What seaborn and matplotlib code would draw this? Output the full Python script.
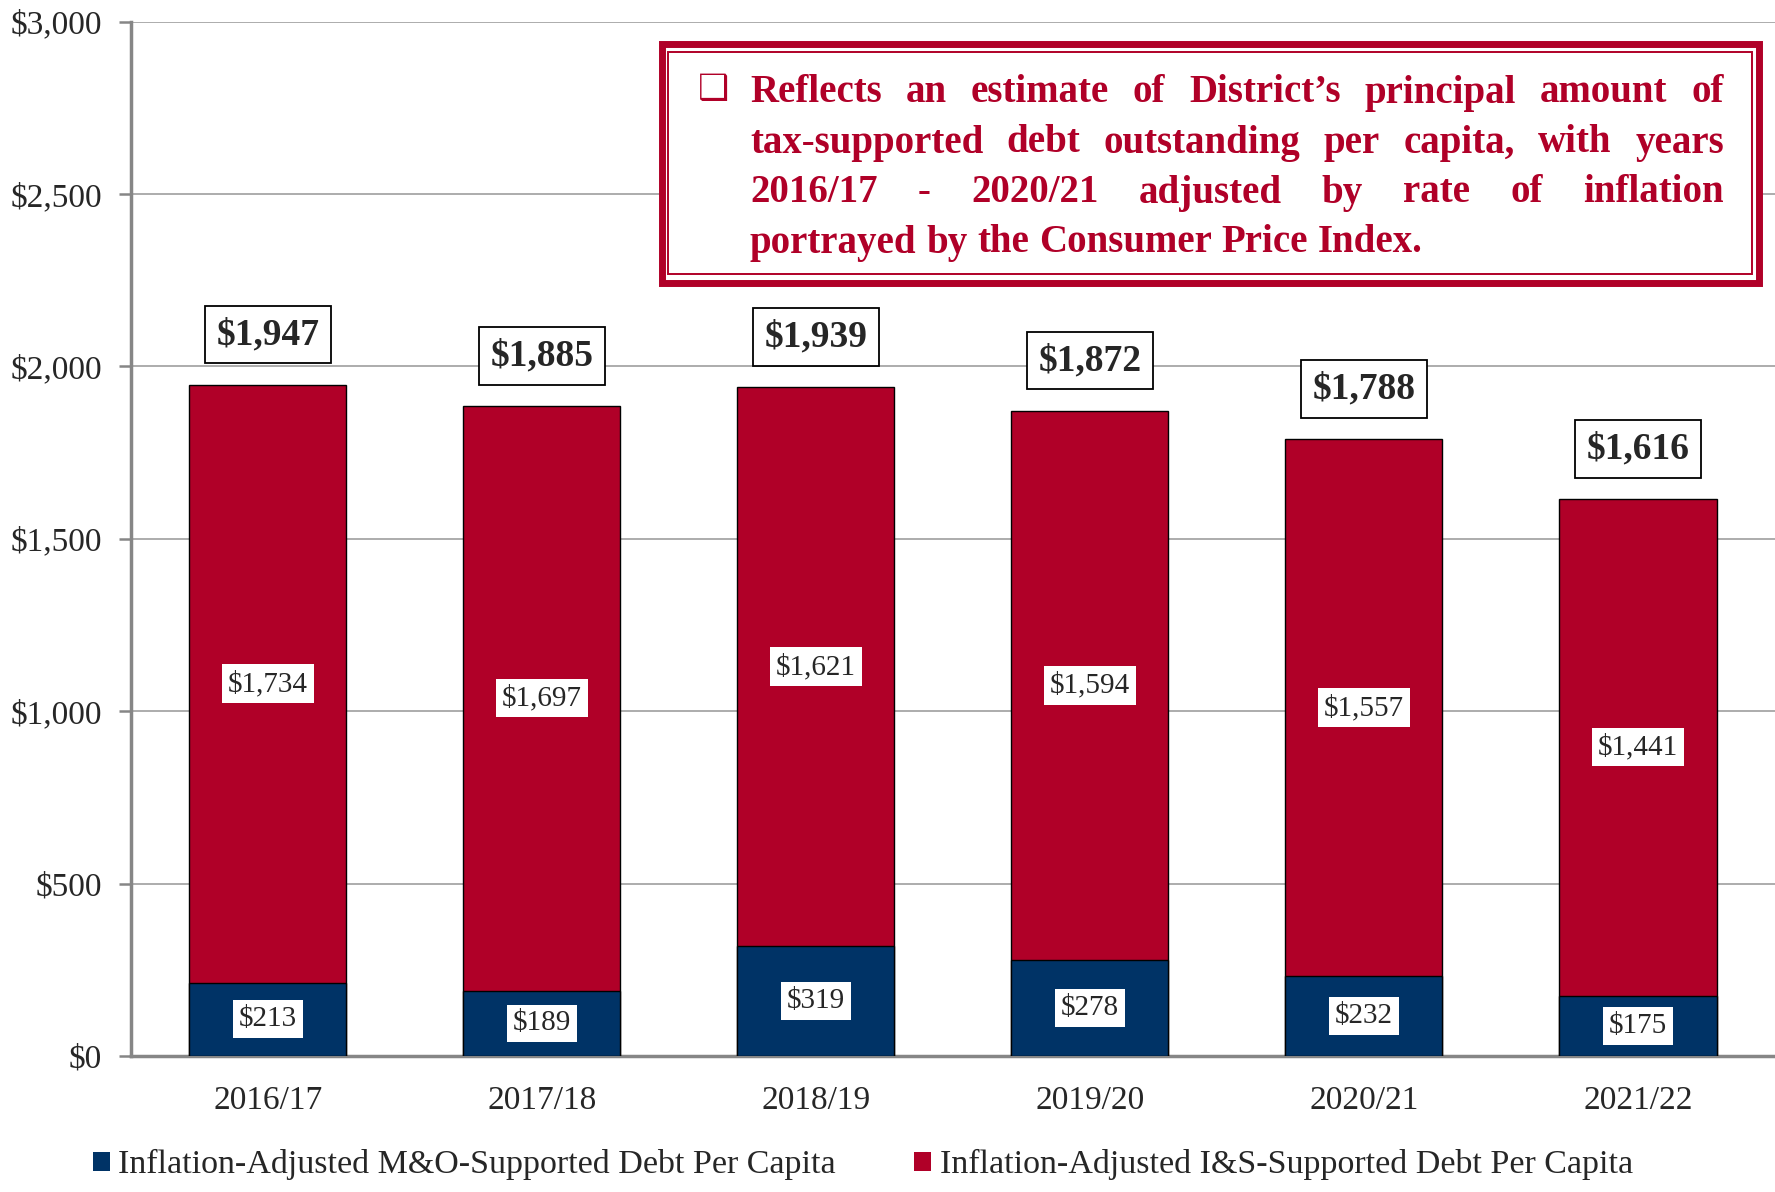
import numpy as np
import pandas as pd
import matplotlib.pyplot as plt
import matplotlib.ticker as mticker
from matplotlib.patches import Patch, Rectangle
import seaborn as sns

#%% data
years = ['2016/17', '2017/18', '2018/19', '2019/20', '2020/21', '2021/22']
mo_debt = [213, 189, 319, 278, 232, 175]          # M&O-supported, per capita
is_debt = [1734, 1697, 1621, 1594, 1557, 1441]    # I&S-supported, per capita
total_labels = ['$1,947', '$1,885', '$1,939', '$1,872', '$1,788', '$1,616']
note_lines = [
    "Reflects an estimate of District\u2019s principal amount of",
    "tax-supported debt outstanding per capita, with years",
    "2016/17 - 2020/21 adjusted by rate of inflation",
    "portrayed by the Consumer Price Index.",
]

df = pd.DataFrame({'year': years, 'mo': mo_debt, 'is': is_debt})
df['total'] = df['mo'] + df['is']

blue = '#003366'
red = '#B00028'

#%% style
sns.set_style('white')
plt.rcParams['font.family'] = ['Liberation Serif', 'DejaVu Serif']
plt.rcParams['text.parse_math'] = False

fig = plt.figure(figsize=(17.75, 11.92), dpi=100)
ax = fig.add_axes([0.0738, 0.1141, 0.9262, 0.8677])

#%% stacked bars: total in red, M&O on top of it in blue
sns.barplot(data=df, x='year', y='total', color=red, saturation=1, width=0.573,
            edgecolor='black', linewidth=1, ax=ax, zorder=3)
sns.barplot(data=df, x='year', y='mo', color=blue, saturation=1, width=0.573,
            edgecolor='black', linewidth=1, ax=ax, zorder=3)

# segment labels
for i, row in df.iterrows():
    ax.text(i, row['mo'] / 2, f"${row['mo']:,}", ha='center', va='center',
            fontsize=21, zorder=5,
            bbox=dict(boxstyle='square,pad=0.2', fc='white', ec='none'))
    ax.text(i, row['mo'] + row['is'] / 2, f"${row['is']:,}", ha='center', va='center',
            fontsize=21, zorder=5,
            bbox=dict(boxstyle='square,pad=0.2', fc='white', ec='none'))
    ax.annotate(total_labels[i], (i, row['total']), xytext=(0, 50),
                textcoords='offset pixels', ha='center', va='center',
                fontsize=27, fontweight='bold', zorder=5,
                bbox=dict(boxstyle='square,pad=0.3', fc='white', ec='black', lw=1.3))

#%% axes
ax.set_ylim(0, 3000)
ax.set_xlim(-0.5, 5.5)
ax.yaxis.set_major_locator(mticker.MultipleLocator(500))
ax.yaxis.set_major_formatter(mticker.StrMethodFormatter('${x:,.0f}'))
ax.set_xlabel('')
ax.set_ylabel('')
ax.grid(axis='y', color='#a6a6a6', lw=1.3, zorder=0)
ax.set_axisbelow(True)
sns.despine(ax=ax)
for s in ['left', 'bottom']:
    ax.spines[s].set_color('#868686')
    ax.spines[s].set_linewidth(2.5)
ax.xaxis.set_minor_locator(mticker.FixedLocator(np.arange(-0.5, 6, 1)))
ax.tick_params(axis='x', which='major', length=0, pad=21, labelsize=24)
ax.tick_params(axis='x', which='minor', length=9, width=1.8, color='#868686', direction='out')
ax.tick_params(axis='y', length=9, width=1.8, color='#868686', direction='out',
               pad=12, labelsize=24, left=True)

#%% legend
handles = [Patch(facecolor=blue, edgecolor='none'), Patch(facecolor=red, edgecolor='none')]
fig.legend(handles, ['Inflation-Adjusted M&O-Supported Debt Per Capita',
                     'Inflation-Adjusted I&S-Supported Debt Per Capita'],
           loc='center', bbox_to_anchor=(0.486, 0.0227), ncol=2, frameon=False,
           fontsize=24.5, handlelength=0.5, handleheight=0.5, handletextpad=0.25,
           columnspacing=2.3)

#%% note box (figure pixel coords, y from the top)
W, H = 1775, 1192
def fx(px):
    return px / W
def fy(py):
    return 1 - py / H

fig.patches.append(Rectangle((fx(661.5), fy(282.5)), fx(1759.5) - fx(661.5), fy(44.5) - fy(282.5),
                             transform=fig.transFigure, fill=True, fc='white', ec=red, lw=5, zorder=10))
fig.patches.append(Rectangle((fx(668), fy(274)), fx(1752) - fx(668), fy(52) - fy(274),
                             transform=fig.transFigure, fill=False, ec=red, lw=1.4, zorder=11))

fig.text(fx(713), fy(89), '\u2751', ha='center', va='center', fontsize=25, color=red,
         family=['DejaVu Sans'], zorder=12)

renderer = fig.canvas.get_renderer()
x_left, x_right = 750, 1724
line_y = [93, 143, 193, 243]
for k, line in enumerate(note_lines):
    words = line.split(' ')
    texts = [fig.text(0, fy(line_y[k]), w, ha='left', va='center', fontsize=28,
                      fontweight='bold', color=red, zorder=12) for w in words]
    widths = [t.get_window_extent(renderer).width for t in texts]
    if k < len(note_lines) - 1:
        gap = (x_right - x_left - sum(widths)) / (len(words) - 1)
    else:
        gap = texts[0].get_fontsize() * 0.25 * 100 / 72
    x = x_left
    for t, w in zip(texts, widths):
        t.set_x(fx(x))
        x += w + gap

fig.savefig('out.png', dpi=100)
